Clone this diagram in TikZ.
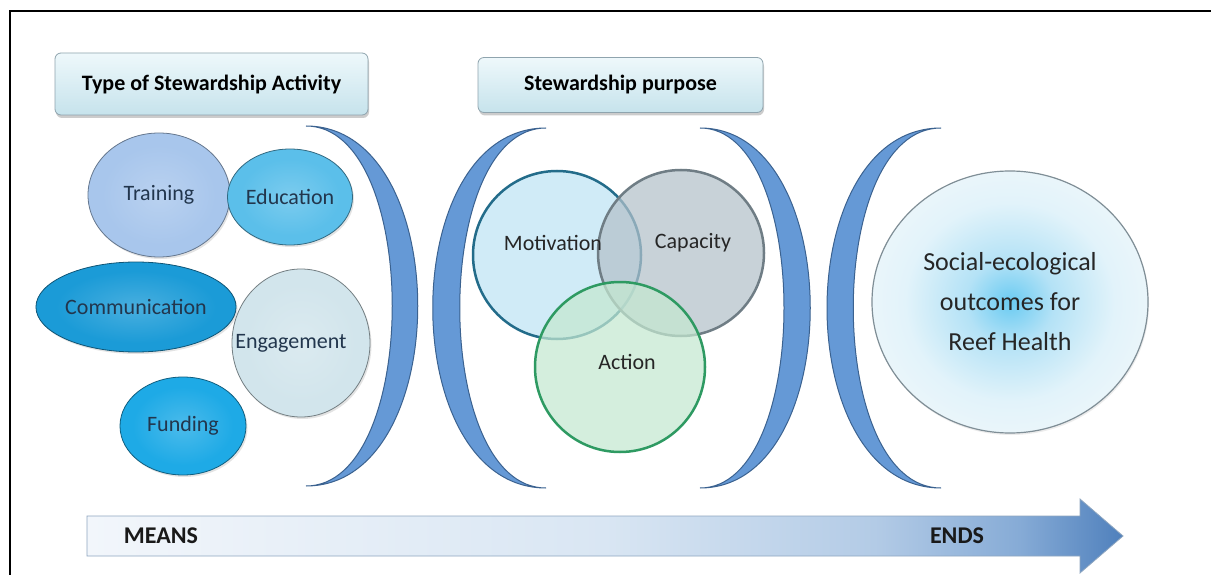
\documentclass[tikz,border=0pt]{standalone}
\usepackage{fontspec}
\setmainfont{Carlito}
\usetikzlibrary{shapes.geometric,shadows}
\definecolor{trainC}{HTML}{A8C6EC}
\definecolor{eduC}{HTML}{5BBFEA}
\definecolor{commC}{HTML}{1B9BD7}
\definecolor{engC}{HTML}{D2E5EC}
\definecolor{fundC}{HTML}{1EAAE6}
\definecolor{labC}{HTML}{22364D}
\definecolor{brkF}{HTML}{6599D6}
\definecolor{brkD}{HTML}{3B6290}
\definecolor{motF}{HTML}{BEE4F5}
\definecolor{motD}{HTML}{236C8A}
\definecolor{capF}{HTML}{B3C1CA}
\definecolor{capD}{HTML}{6F7D85}
\definecolor{actF}{HTML}{C4E8D0}
\definecolor{actD}{HTML}{2E9A62}
\definecolor{reefA}{HTML}{6ACBF2}
\definecolor{reefB}{HTML}{B4E2F6}
\definecolor{reefC}{HTML}{E2F3FA}
\definecolor{reefD}{HTML}{F0F7FA}
\definecolor{reefE}{HTML}{7F8E96}
\definecolor{boxT}{HTML}{EEF8FB}
\definecolor{boxB}{HTML}{C6E3EC}
\definecolor{boxD}{HTML}{8FA4AE}
\definecolor{arrA}{HTML}{F2F6FB}
\definecolor{arrB}{HTML}{D9E6F3}
\definecolor{arrC}{HTML}{B3CBE6}
\definecolor{arrE}{HTML}{86ABD6}
\definecolor{arrR}{HTML}{4F80BC}
\definecolor{arrD}{HTML}{8EA6C0}
\newcommand\mkbevel[2]{\pgfdeclareradialshading{#1}{\pgfpoint{0bp}{0bp}}{color(0bp)=(#2!80!white); color(20bp)=(#2); color(30bp)=(#2); color(35.4bp)=(#2!55!black); color(50bp)=(#2!55!black)}}
\mkbevel{shTrain}{trainC}
\mkbevel{shEdu}{eduC}
\mkbevel{shComm}{commC}
\mkbevel{shEng}{engC}
\mkbevel{shFund}{fundC}
\pgfdeclareradialshading{shReef}{\pgfpoint{0bp}{0bp}}{color(0bp)=(reefA); color(8bp)=(reefB); color(19bp)=(reefC); color(30bp)=(reefD); color(33bp)=(reefD!80!reefE); color(35.4bp)=(reefE); color(50bp)=(reefE)}
\pgfdeclarehorizontalshading{shArrow}{100bp}{color(0bp)=(arrA); color(25bp)=(arrA); color(50bp)=(arrB); color(63bp)=(arrC); color(70bp)=(arrE); color(75bp)=(arrR); color(100bp)=(arrR)}
\begin{document}
\begin{tikzpicture}[x=1pt,y=-1pt,
  act/.style={ellipse, inner sep=0pt, shade, text=labC, font=\fontsize{22}{26}\selectfont, line width=0.8pt,
    drop shadow={opacity=.22, shadow xshift=1.5pt, shadow yshift=-2pt}},
  hbox/.style={rectangle, rounded corners=6pt, top color=boxT, bottom color=boxB, draw=boxD, line width=0.8pt,
    font=\bfseries\fontsize{22}{26}\selectfont, inner sep=0pt,
    drop shadow={opacity=.4, shadow xshift=1pt, shadow yshift=-3pt}},
  venn/.style={circle, inner sep=0pt, minimum size=#1, fill opacity=.72, line width=2.5pt},
  vlab/.style={text=black!85, font=\fontsize{22}{26}\selectfont, inner sep=0pt},
  brk/.style={fill=brkF, draw=brkD, line width=1pt},
  endtext/.style={font=\bfseries\fontsize{24}{28}\selectfont, text=black!90, inner sep=0pt}]
\useasboundingbox (0,0) rectangle (1211,575);
\fill[white] (0,0) rectangle (1211,575);
% frame
\coordinate (fa) at (10,575);
\coordinate (fb) at (10,11);
\coordinate (fc) at (1211,11);
\draw[line width=2pt] (fa) -- (fb) -- (fc);
% heading boxes
\node[hbox, minimum width=313pt, minimum height=62pt] (h1) at (211.5,84) {Type of Stewardship Activity};
\node[hbox, minimum width=285pt, minimum height=55pt] (h2) at (620.5,85) {Stewardship purpose};
% activity ellipses
\node[act, shading=shTrain, draw=trainC!60!black, minimum width=142pt, minimum height=124pt] (training) at (159,195) {Training};
\node[act, shading=shEdu, draw=eduC!55!black, minimum width=114pt, minimum height=96pt] (education) at (290,197) {Education};
\node[act, shading=shComm, draw=commC!55!black, minimum width=194pt, minimum height=90pt] (communication) at (136,307) {Communication};
\node[act, shading=shEng, draw=engC!55!black, minimum width=138pt, minimum height=148pt] (engagement) at (301,343) {\hspace*{-20pt}Engagement};
\node[act, shading=shFund, draw=fundC!55!black, minimum width=126pt, minimum height=98pt] (funding) at (183,426) {Funding};
% brackets
\fill[brk] (306,126) .. controls (455,126) and (455,486) .. (306,486)
  .. controls (421,486) and (421,126) .. (306,126) -- cycle;
\fill[brk] (546,128) .. controls (395,128) and (395,488) .. (546,488)
  .. controls (431,488) and (431,128) .. (546,128) -- cycle;
\fill[brk] (700,128) .. controls (847,128) and (847,488) .. (700,488)
  .. controls (812,488) and (812,128) .. (700,128) -- cycle;
\fill[brk] (941,128) .. controls (789,128) and (789,488) .. (941,488)
  .. controls (824,488) and (824,128) .. (941,128) -- cycle;
% venn
\node[venn=168pt, fill=motF, draw=motD] (motivation) at (557,255) {};
\node[venn=166pt, fill=capF, draw=capD] (capacity) at (681,253) {};
\node[venn=170pt, fill=actF, draw=actD] (action) at (620,367) {};
\node[vlab] (motT) at (553,243) {Motivation};
\node[vlab] (capT) at (693,243) {Capacity};
\node[vlab] (actT) at (627,362) {Action};
% outcome circle
\node[ellipse, inner sep=0pt, minimum width=276pt, minimum height=262pt, shade, shading=shReef,
  draw=reefE, line width=1.2pt, drop shadow={opacity=.15, shadow xshift=1pt, shadow yshift=-2pt},
  align=center, text=black!85, font=\fontsize{26}{40}\selectfont] (reef) at (1010,302)
  {Social-ecological\\outcomes for\\Reef Health};
% means-ends arrow
\shade[shading=shArrow, draw=arrD, line width=0.8pt]
  (87,516) -- (1080,516) -- (1080,499) -- (1123,536) -- (1080,573) -- (1080,556) -- (87,556) -- cycle;
\node[endtext] (means) at (161,536) {MEANS};
\node[endtext] (ends) at (957,536) {ENDS};
\end{tikzpicture}
\end{document}
